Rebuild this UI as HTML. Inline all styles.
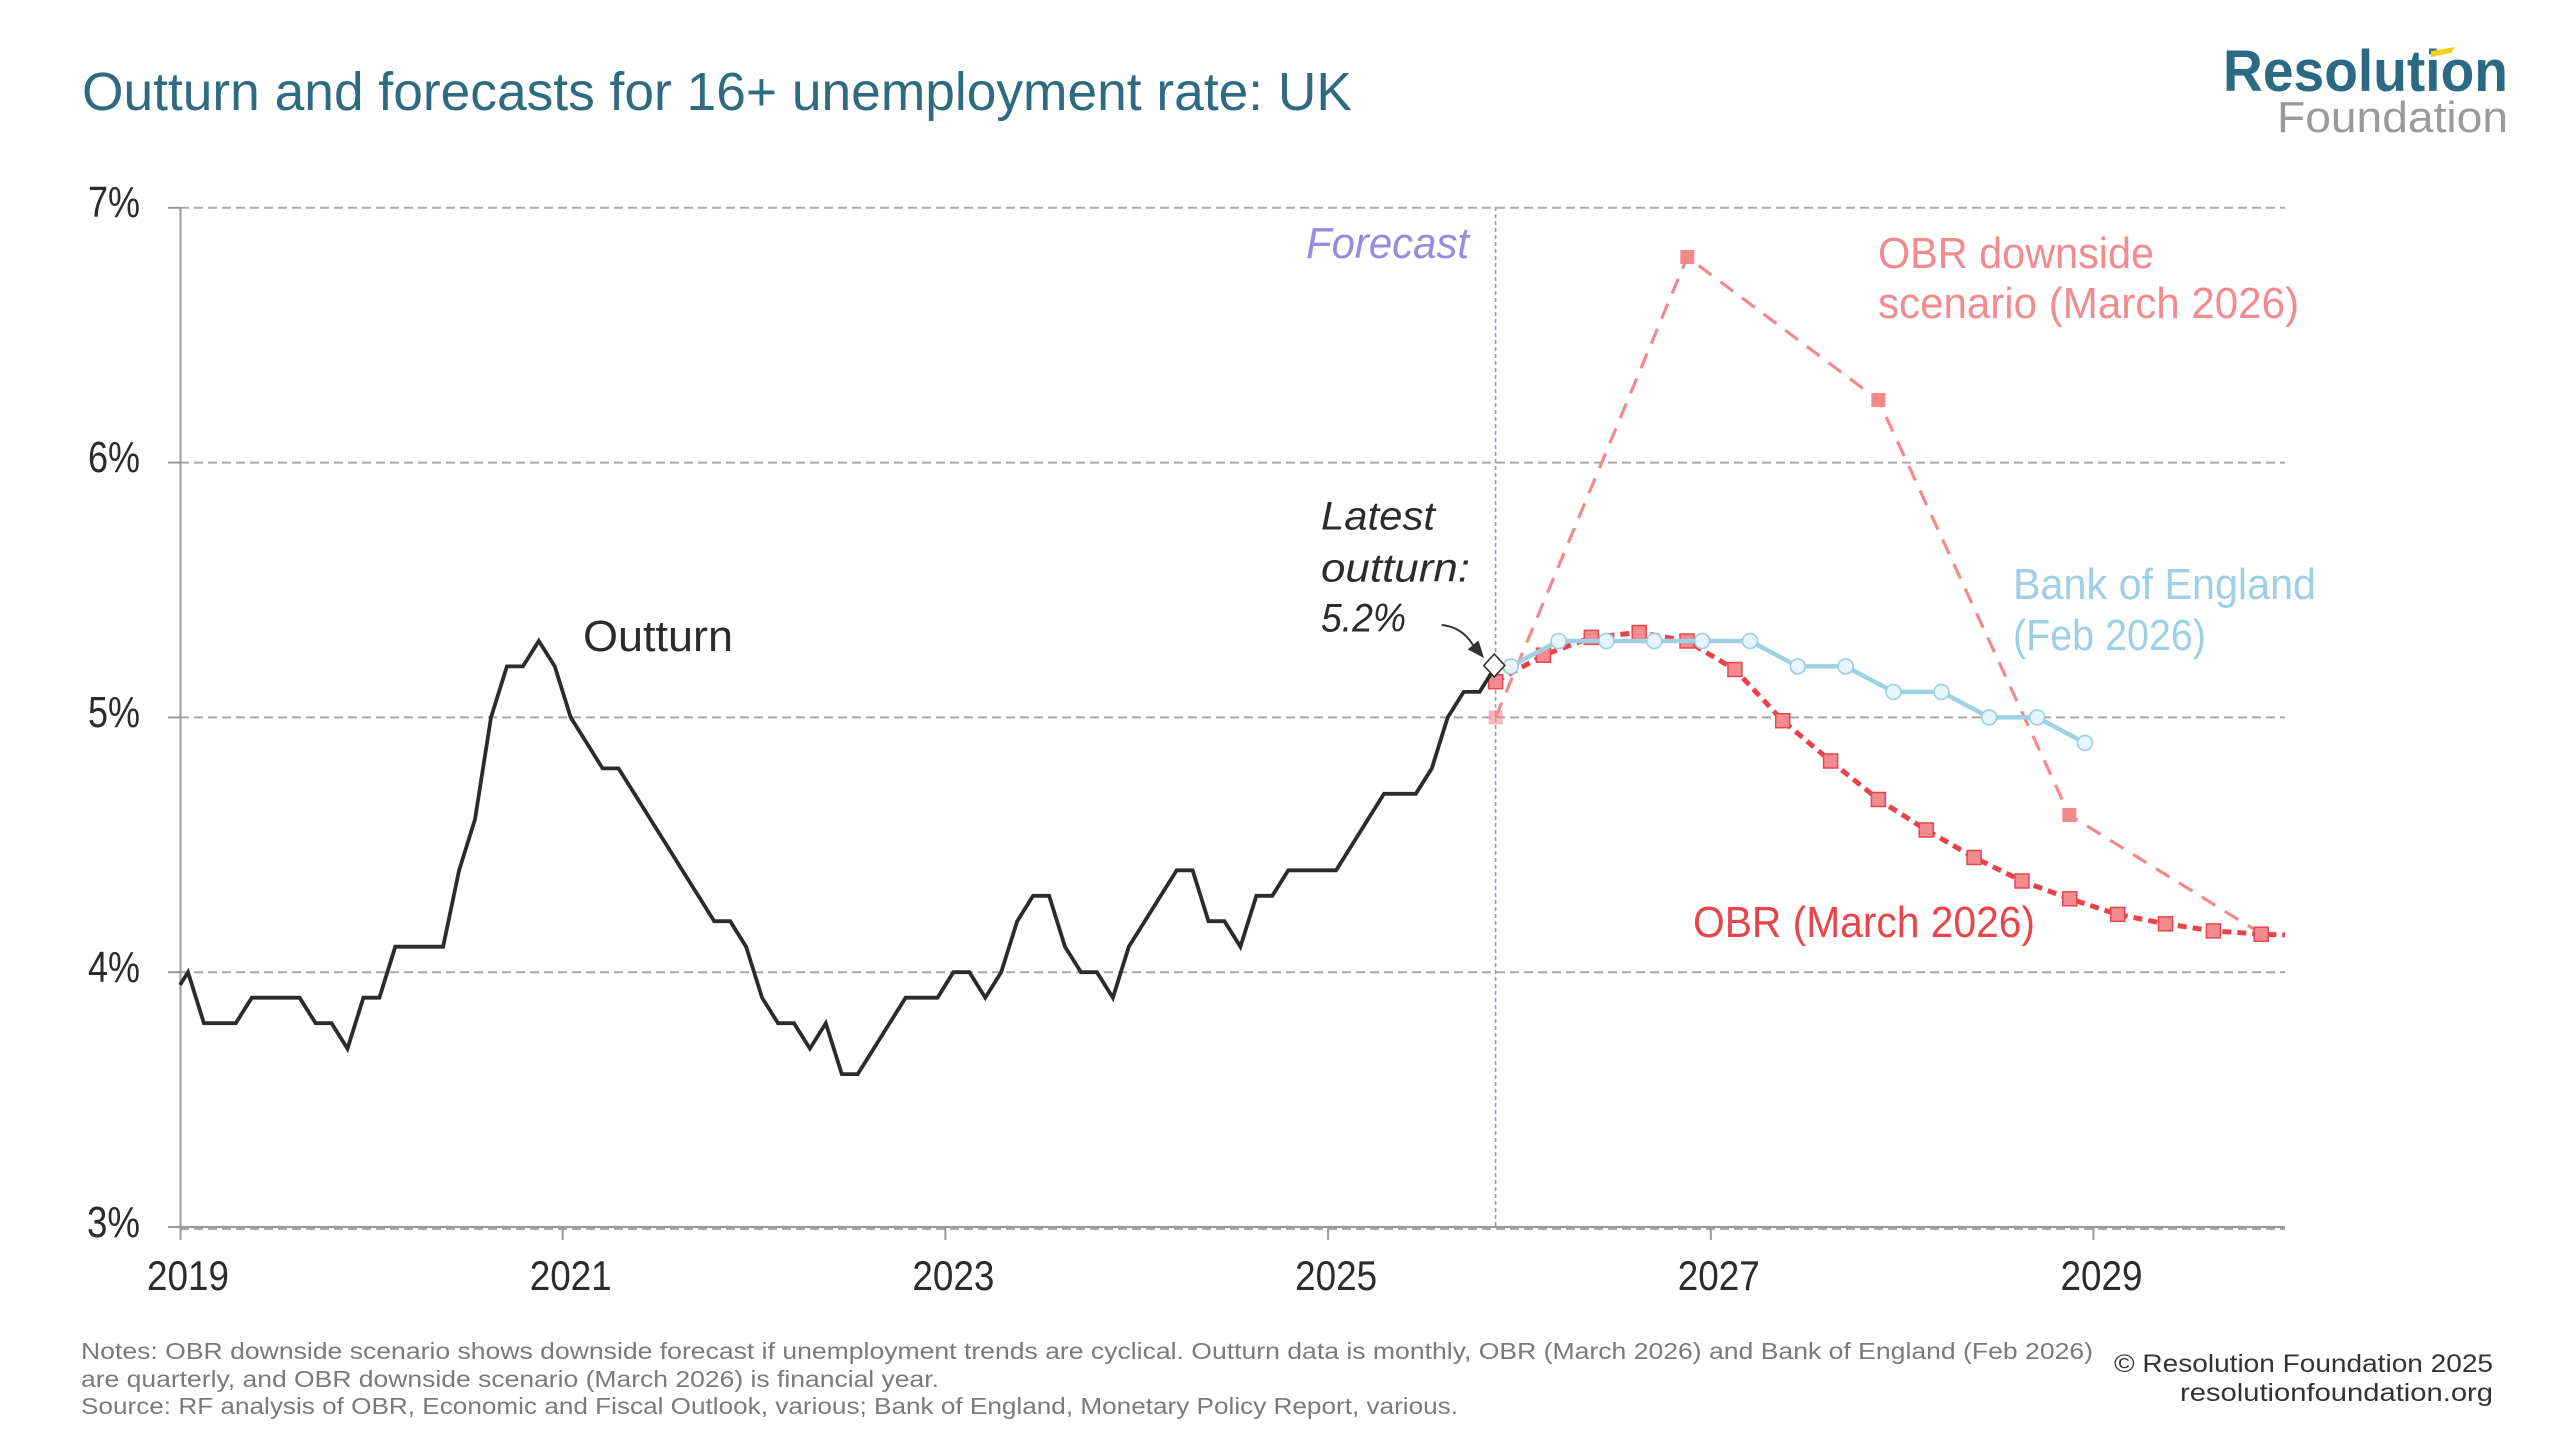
<!DOCTYPE html>
<html>
<head>
<meta charset="utf-8">
<style>
html,body{margin:0;padding:0;background:#fff;}
svg{display:block;}
text{font-family:"Liberation Sans",sans-serif;}
</style>
</head>
<body>
<svg width="2560" height="1440" viewBox="0 0 2560 1440" xmlns="http://www.w3.org/2000/svg">
<rect width="2560" height="1440" fill="#fff"/>

<!-- Title -->
<text x="82" y="110" font-size="54" fill="#2e6b80" textLength="1270" lengthAdjust="spacingAndGlyphs">Outturn and forecasts for 16+ unemployment rate: UK</text>

<!-- Logo -->
<text x="2223" y="91" font-size="58" font-weight="bold" fill="#2b6a83" textLength="285" lengthAdjust="spacingAndGlyphs">Resolution</text>
<polygon points="2431,51 2455,47 2451,53 2431,57" fill="#f5cf12"/>
<text x="2277" y="132" font-size="44" fill="#9a9a9a" textLength="231" lengthAdjust="spacingAndGlyphs">Foundation</text>

<!-- Gridlines -->
<g stroke="#a9a9a9" stroke-width="2" stroke-dasharray="9 5" fill="none">
<line x1="180" y1="207.8" x2="2285" y2="207.8"/>
<line x1="180" y1="462.6" x2="2285" y2="462.6"/>
<line x1="180" y1="717.4" x2="2285" y2="717.4"/>
<line x1="180" y1="972.2" x2="2285" y2="972.2"/>
<line x1="180" y1="1229" x2="2285" y2="1229"/>
</g>
<!-- axes -->
<g stroke="#999" stroke-width="2" fill="none">
<line x1="180.5" y1="207" x2="180.5" y2="1240"/>
<line x1="180" y1="1227" x2="2285" y2="1227"/>
<line x1="168" y1="207.8" x2="180" y2="207.8"/>
<line x1="168" y1="462.6" x2="180" y2="462.6"/>
<line x1="168" y1="717.4" x2="180" y2="717.4"/>
<line x1="168" y1="972.2" x2="180" y2="972.2"/>
<line x1="168" y1="1227" x2="180" y2="1227"/>
<line x1="562.7" y1="1227" x2="562.7" y2="1240"/>
<line x1="945.4" y1="1227" x2="945.4" y2="1240"/>
<line x1="1328.1" y1="1227" x2="1328.1" y2="1240"/>
<line x1="1710.8" y1="1227" x2="1710.8" y2="1240"/>
<line x1="2093.5" y1="1227" x2="2093.5" y2="1240"/>
</g>

<!-- Y labels -->
<g font-size="44" fill="#2b2b2b">
<text x="88" y="217" textLength="52" lengthAdjust="spacingAndGlyphs">7%</text>
<text x="88" y="472" textLength="52" lengthAdjust="spacingAndGlyphs">6%</text>
<text x="88" y="727" textLength="52" lengthAdjust="spacingAndGlyphs">5%</text>
<text x="88" y="982" textLength="52" lengthAdjust="spacingAndGlyphs">4%</text>
<text x="87" y="1237" textLength="53" lengthAdjust="spacingAndGlyphs">3%</text>
</g>
<!-- X labels -->
<g font-size="42" fill="#2b2b2b">
<text x="147" y="1290" textLength="82" lengthAdjust="spacingAndGlyphs">2019</text>
<text x="529.7" y="1290" textLength="82" lengthAdjust="spacingAndGlyphs">2021</text>
<text x="912.4" y="1290" textLength="82" lengthAdjust="spacingAndGlyphs">2023</text>
<text x="1295.1" y="1290" textLength="82" lengthAdjust="spacingAndGlyphs">2025</text>
<text x="1677.8" y="1290" textLength="82" lengthAdjust="spacingAndGlyphs">2027</text>
<text x="2060.5" y="1290" textLength="82" lengthAdjust="spacingAndGlyphs">2029</text>
</g>

<!-- Forecast line -->
<line x1="1495.6" y1="207" x2="1495.6" y2="1227" stroke="#9b8fe0" stroke-width="1.6" stroke-dasharray="4 3"/>
<text x="1306" y="258" font-size="44" font-style="italic" fill="#9a8adf" textLength="163" lengthAdjust="spacingAndGlyphs">Forecast</text>

<!-- Downside scenario -->
<polyline points="1495.6,717.4 1687.3,257 1878.4,400 2069.3,815 2260.8,933.5" fill="none" stroke="#f4898d" stroke-width="3.2" stroke-dasharray="16 11"/>
<g fill="#f4898d">
<rect x="1488.6" y="710.4" width="14" height="14" opacity="0.6"/>
<rect x="1680.3" y="250" width="14" height="14"/>
<rect x="1871.4" y="393" width="14" height="14"/>
<rect x="2062.3" y="808" width="14" height="14"/>
<rect x="2253.8" y="926.5" width="14" height="14"/>
</g>

<!-- OBR March 2026 -->
<polyline points="1495.6,681.7 1543.5,655.2 1591.3,637.4 1639.2,632.5 1687.0,641.0 1734.9,669.5 1782.7,720.7 1830.6,761.0 1878.4,799.5 1926.3,830.0 1974.1,857.5 2022.0,881.0 2069.8,898.8 2117.7,914.4 2165.5,923.8 2213.4,930.9 2261.2,934.2 2285,935" fill="none" stroke="#e8434b" stroke-width="5" stroke-dasharray="9 6"/>
<g fill="#f28b90" stroke="#e4464e" stroke-width="1.5">
<rect x="1488.6" y="674.7" width="14" height="14"/>
<rect x="1536.5" y="648.2" width="14" height="14"/>
<rect x="1584.3" y="630.4" width="14" height="14"/>
<rect x="1632.2" y="625.5" width="14" height="14"/>
<rect x="1680.0" y="634.0" width="14" height="14"/>
<rect x="1727.9" y="662.5" width="14" height="14"/>
<rect x="1775.7" y="713.7" width="14" height="14"/>
<rect x="1823.6" y="754.0" width="14" height="14"/>
<rect x="1871.4" y="792.5" width="14" height="14"/>
<rect x="1919.3" y="823.0" width="14" height="14"/>
<rect x="1967.1" y="850.5" width="14" height="14"/>
<rect x="2015.0" y="874.0" width="14" height="14"/>
<rect x="2062.8" y="891.8" width="14" height="14"/>
<rect x="2110.7" y="907.4" width="14" height="14"/>
<rect x="2158.5" y="916.8" width="14" height="14"/>
<rect x="2206.4" y="923.9" width="14" height="14"/>
<rect x="2254.2" y="927.2" width="14" height="14"/>
</g>

<!-- Bank of England -->
<polyline points="1510.7,666.4 1558.6,641.0 1606.4,641.0 1654.3,641.0 1702.1,641.0 1750.0,641.0 1797.8,666.4 1845.7,666.4 1893.5,691.9 1941.4,691.9 1989.2,717.4 2037.1,717.4 2084.9,742.9" fill="none" stroke="#9ed0e6" stroke-width="4.5"/>
<g fill="#e7f4fa" stroke="#98cde4" stroke-width="1.6">
<circle cx="1510.7" cy="666.4" r="7.5"/>
<circle cx="1558.6" cy="641.0" r="7.5"/>
<circle cx="1606.4" cy="641.0" r="7.5"/>
<circle cx="1654.3" cy="641.0" r="7.5"/>
<circle cx="1702.1" cy="641.0" r="7.5"/>
<circle cx="1750.0" cy="641.0" r="7.5"/>
<circle cx="1797.8" cy="666.4" r="7.5"/>
<circle cx="1845.7" cy="666.4" r="7.5"/>
<circle cx="1893.5" cy="691.9" r="7.5"/>
<circle cx="1941.4" cy="691.9" r="7.5"/>
<circle cx="1989.2" cy="717.4" r="7.5"/>
<circle cx="2037.1" cy="717.4" r="7.5"/>
<circle cx="2084.9" cy="742.9" r="7.5"/>
</g>

<!-- Outturn -->
<polyline fill="none" stroke="#2b2b2b" stroke-width="3.8" stroke-linejoin="miter" points="180,985.0 188.0,972.2 203.9,1023.2 219.9,1023.2 235.8,1023.2 251.8,997.7 267.7,997.7 283.7,997.7 299.6,997.7 315.6,1023.2 331.5,1023.2 347.5,1048.6 363.4,997.7 379.4,997.7 395.3,946.7 411.2,946.7 427.2,946.7 443.1,946.7 459.1,870.3 475.0,819.3 491.0,717.4 506.9,666.4 522.9,666.4 538.8,641.0 554.8,666.4 570.7,717.4 586.7,742.9 602.6,768.4 618.5,768.4 634.5,793.8 650.4,819.3 666.4,844.8 682.3,870.3 698.3,895.8 714.2,921.2 730.2,921.2 746.1,946.7 762.1,997.7 778.0,1023.2 794.0,1023.2 809.9,1048.6 825.8,1023.2 841.8,1074.1 857.7,1074.1 873.7,1048.6 889.6,1023.2 905.6,997.7 921.5,997.7 937.5,997.7 953.4,972.2 969.4,972.2 985.3,997.7 1001.2,972.2 1017.2,921.2 1033.1,895.8 1049.1,895.8 1065.0,946.7 1081.0,972.2 1096.9,972.2 1112.9,997.7 1128.8,946.7 1144.8,921.2 1160.7,895.8 1176.7,870.3 1192.6,870.3 1208.5,921.2 1224.5,921.2 1240.4,946.7 1256.4,895.8 1272.3,895.8 1288.3,870.3 1304.2,870.3 1320.2,870.3 1336.1,870.3 1352.1,844.8 1368.0,819.3 1384.0,793.8 1399.9,793.8 1415.8,793.8 1431.8,768.4 1447.7,717.4 1463.7,691.9 1479.6,691.9 1495.6,666.4"/>

<!-- Latest outturn marker -->
<polygon points="1494.3,654 1504.8,665.5 1494.3,677 1483.8,665.5" fill="#fff" stroke="#2b2b2b" stroke-width="1.6"/>
<path d="M1441.7,625 Q1462,627 1473,645" fill="none" stroke="#333" stroke-width="2"/>
<polygon points="1484,658 1467.7,649.4 1478.5,640.4" fill="#333"/>

<!-- Labels -->
<text x="583" y="651" font-size="44" fill="#2b2b2b" textLength="150" lengthAdjust="spacingAndGlyphs">Outturn</text>
<g font-size="40" font-style="italic" fill="#2b2b2b">
<text x="1321" y="529.5" textLength="114" lengthAdjust="spacingAndGlyphs">Latest</text>
<text x="1321" y="581.7" textLength="149" lengthAdjust="spacingAndGlyphs">outturn:</text>
<text x="1321" y="631.7" textLength="85" lengthAdjust="spacingAndGlyphs">5.2%</text>
</g>
<g font-size="44" fill="#f28b8f">
<text x="1878" y="268" textLength="276" lengthAdjust="spacingAndGlyphs">OBR downside</text>
<text x="1878" y="318" textLength="421" lengthAdjust="spacingAndGlyphs">scenario (March 2026)</text>
</g>
<g font-size="44" fill="#9dcfe5">
<text x="2013" y="599" textLength="303" lengthAdjust="spacingAndGlyphs">Bank of England</text>
<text x="2013" y="650" textLength="193" lengthAdjust="spacingAndGlyphs">(Feb 2026)</text>
</g>
<text x="1693" y="937" font-size="44" fill="#e8444c" textLength="342" lengthAdjust="spacingAndGlyphs">OBR (March 2026)</text>

<!-- Notes -->
<g font-size="23" fill="#7a7a7a">
<text x="81" y="1359" textLength="2012" lengthAdjust="spacingAndGlyphs">Notes: OBR downside scenario shows downside forecast if unemployment trends are cyclical. Outturn data is monthly, OBR (March 2026) and Bank of England (Feb 2026)</text>
<text x="81" y="1387" textLength="858" lengthAdjust="spacingAndGlyphs">are quarterly, and OBR downside scenario (March 2026) is financial year.</text>
<text x="81" y="1414" textLength="1377" lengthAdjust="spacingAndGlyphs">Source: RF analysis of OBR, Economic and Fiscal Outlook, various; Bank of England, Monetary Policy Report, various.</text>
</g>
<g font-size="25" fill="#333">
<text x="2114" y="1372" textLength="379" lengthAdjust="spacingAndGlyphs">© Resolution Foundation 2025</text>
<text x="2180" y="1401" textLength="313" lengthAdjust="spacingAndGlyphs">resolutionfoundation.org</text>
</g>
</svg>
</body>
</html>
